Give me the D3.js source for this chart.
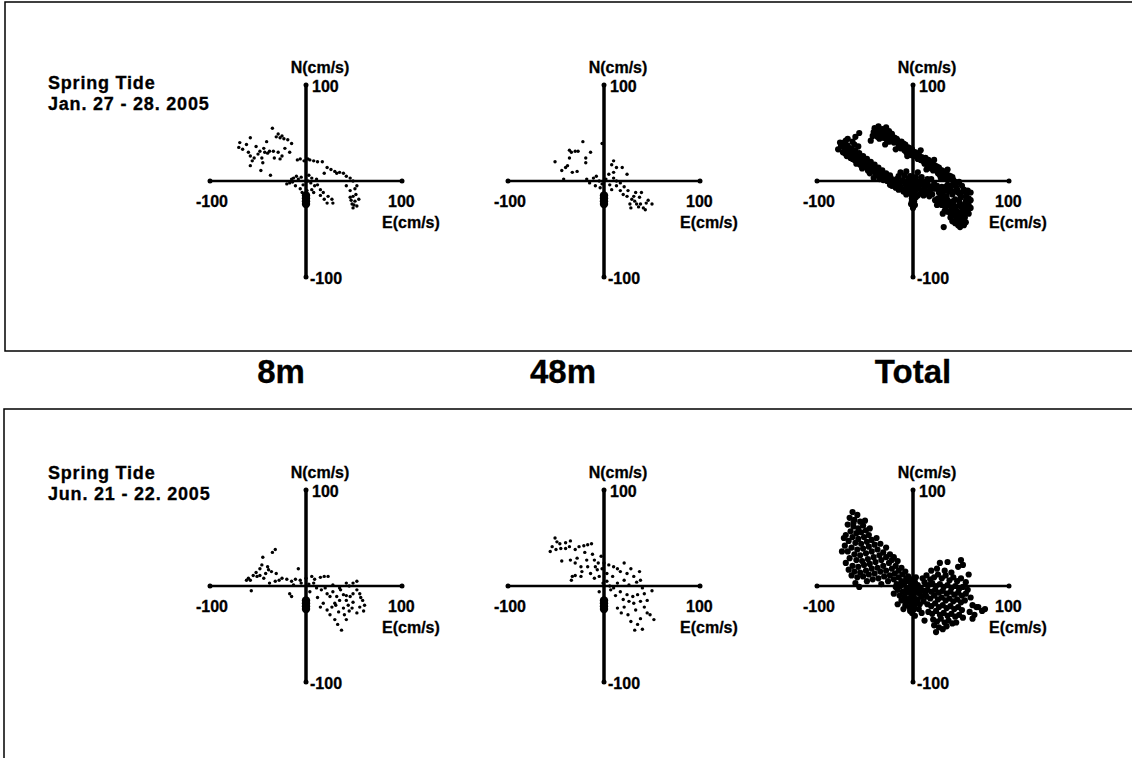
<!DOCTYPE html>
<html>
<head>
<meta charset="utf-8">
<script src="https://cdn.jsdelivr.net/npm/d3@7"></script>
<style>
  body { margin: 0; background: #fff; }
  text { font-family: "Liberation Sans", Arial, sans-serif; font-weight: bold; fill: #000; stroke: #000; stroke-width: 0.3px; }
</style>
</head>
<body>
<svg id="chart"></svg>
<script>
// current vectors, E and N in cm/s
const jan8m = [[-35,55],[-58,45],[-69,40],[-70,35],[-66,33],[-31,46],[-27,45],[-23,44],[-19,43],[-15,39],
  [-44,34],[-43,30],[-38,31],[-58,26],[-54,24],[-50,28],[-56,21],[-46,24],[-45,19],[-58,16],[-47,11],[-37,6],
  [-34,31],[-29,30],[-27,23],[-22,34],[-17,30],[-6,23],[-2,21],[2,23],[8,21],[12,20],[17,20],[19,8],[22,14],
  [30,10],[35,9],[39,8],[42,5],[46,3],[49,0],[53,-5],[-13,3],[-10,5],[-8,2],[-5,4],[-17,-2],[-20,-3],[-11,-5],
  [-6,-8],[6,3],[11,2],[9,-5],[6,-9],[15,-9],[18,-12],[23,-16],[27,-19],[28,-23],[22,-23],[42,-5],[46,-10],
  [49,-16],[51,-21],[48,-24],[49,-28],[53,-26],[55,-19],[46,-17],[2,0],[5,-2],[1,-10],[-3,-4],[-14,-1],[3,6],
  [-62,38],[-52,36],[-48,31],[-40,29],[-33,24],[-25,26],[-60,30],[-41,41],[-29,49],[-25,47],[-9,22],[4,22],
  [26,12],[32,8],[51,-8],[52,-14],[47,-20],[50,-25],[8,-12],[12,-4],[-15,2],[-4,-12],[15,-15],[19,-19]];
const jan48m = [[-22,41],[-2,39],[-36,32],[-34,30],[-30,31],[-27,31],[-14,30],[-51,20],[-36,24],[-19,24],[-19,19],
  [-44,11],[-40,14],[-38,16],[-33,9],[-28,10],[-42,2],[10,21],[13,14],[19,14],[24,7],[8,17],[-18,2],[-15,-2],
  [-11,3],[-8,5],[-5,0],[-9,-5],[-4,-7],[10,3],[13,0],[17,-2],[13,-5],[8,-9],[17,-10],[21,-6],[25,-10],[24,-16],
  [29,-19],[32,-21],[37,-17],[39,-12],[31,-16],[34,-24],[41,-28],[44,-23],[50,-24],[38,-24],[27,-24],[43,-30],
  [36,-27],[46,-20],[10,9],[5,7],[2,2],[-2,-3],[6,-4],[20,-14],[33,-12],[28,-28]];
const janTotal = [[-40,55],[-36,57],[-32,54],[-28,56],[-25,52],[-38,50],[-34,49],[-30,50],[-26,47],[-22,49],
  [-42,47],[-35,44],[-31,45],[-27,42],[-23,44],[-19,45],[-20,40],[-16,42],[-12,41],[-15,37],[-11,36],[-8,38],
  [-5,35],[-9,32],[-4,31],[-1,33],[2,30],[-2,27],[3,26],[6,28],[9,25],[5,23],[10,21],[13,24],[16,22],[12,18],
  [17,17],[20,19],[23,16],[19,13],[24,12],[27,14],[30,11],[26,8],[31,7],[34,9],[37,6],[33,3],[38,2],[41,4],
  [-44,42],[-18,33],[8,32],[22,22],[36,12],[-29,38],[-6,26],[14,12],[29,3],[-56,50],[-60,46],
  [-38,53],[-33,52],[-29,53],[-24,50],[-21,46],[-17,44],[-14,40],[-10,39],[-7,34],[-3,34],[0,29],[4,29],[7,25],
  [11,23],[14,20],[18,20],[21,15],[25,15],[28,12],[32,10],[35,7],[39,5],[42,1],[-37,46],[-33,47],[-28,45],
  [-25,41],[-13,34],[-7,30],[1,26],[8,22],[15,16],[21,11],[28,6],[35,4],[-41,51],[44,-1],
  [-75,36],[-72,40],[-70,33],[-68,37],[-66,30],[-73,30],[-64,34],[-62,28],[-60,32],[-58,25],[-61,22],[-56,29],
  [-54,22],[-52,26],[-50,19],[-55,17],[-48,23],[-46,16],[-44,20],[-42,13],[-47,11],[-40,17],[-38,10],[-36,14],
  [-34,8],[-39,6],[-32,11],[-30,5],[-28,8],[-26,3],[-31,1],[-24,6],[-22,1],[-69,26],[-65,24],[-59,18],[-53,13],
  [-45,8],[-41,3],[-35,2],[-70,42],[-63,41],[-57,36],[-78,33],
  [-74,38],[-71,35],[-67,34],[-65,28],[-62,31],[-59,27],[-57,23],[-53,24],[-51,21],[-49,17],[-45,19],[-43,15],
  [-41,11],[-37,12],[-35,7],[-33,10],[-29,6],[-27,3],[-25,0],[-23,3],[-71,29],[-67,27],[-63,23],[-58,20],
  [-52,17],[-48,14],[-44,10],[-39,8],[-33,5],[-76,40],[-68,44],[-61,38],
  [-20,-2],[-17,2],[-14,-4],[-11,1],[-8,-3],[-5,2],[-2,-2],[1,1],[4,-3],[7,0],[10,-4],[13,-1],[16,-5],[-18,-7],
  [-12,-8],[-6,-7],[0,-6],[6,-8],[12,-9],[18,-9],[-15,5],[-9,6],[-3,5],[3,4],[9,4],[15,2],[-10,-11],[-4,-12],
  [2,-11],[8,-13],[14,-13],[20,-14],[-1,-16],[1,-20],[-2,-24],[0,-28],[3,-17],[-24,-4],[-27,0],[22,-3],[19,2],
  [-7,10],[5,9],[-13,9],
  [-19,-5],[-16,-1],[-13,-6],[-9,-1],[-6,-5],[-3,0],[0,-3],[3,-1],[6,-5],[9,-1],[12,-6],[15,-2],[18,-6],[21,-8],
  [-15,-9],[-9,-9],[-3,-10],[3,-9],[9,-10],[15,-11],[-7,-14],[-1,-13],[5,-15],[11,-15],[17,-16],[-22,-5],
  [0,-22],[2,-25],[-1,-19],
  [24,-8],[27,-12],[30,-6],[33,-10],[36,-4],[39,-8],[42,-2],[45,-6],[48,-1],[51,-5],[26,-18],[29,-15],[32,-20],
  [35,-16],[38,-22],[41,-14],[44,-19],[47,-12],[50,-17],[53,-9],[56,-13],[30,-25],[34,-28],[37,-24],[40,-30],
  [43,-26],[46,-32],[49,-24],[52,-29],[55,-21],[58,-25],[42,-36],[45,-40],[48,-35],[51,-38],[54,-33],[57,-30],
  [50,-43],[53,-46],[47,-46],[44,-2],[58,-18],[60,-12],[25,-25],[23,-20],[39,-38],[31,-34],[32,-48],
  [25,-5],[28,-9],[31,-13],[34,-6],[37,-11],[40,-5],[43,-11],[46,-9],[49,-14],[52,-11],[55,-16],[57,-10],
  [27,-20],[30,-17],[33,-24],[36,-20],[39,-26],[42,-21],[45,-27],[48,-21],[51,-28],[54,-24],[57,-27],[60,-20],
  [36,-32],[39,-34],[42,-31],[45,-35],[48,-40],[51,-33],[54,-38],[58,-34],[44,-44],[49,-48],[52,-41],[28,-24],
  [33,-31],[41,-42],[55,-43],[60,-28]];
const jun8m = [[-32,38],[-35,35],[-45,30],[-46,22],[-48,18],[-39,17],[-36,15],[-31,13],[-55,11],[-51,10],[-48,11],
  [-44,8],[-58,6],[-62,6],[-42,13],[-38,3],[-32,5],[-28,6],[-57,-5],[-20,7],[-15,5],[-11,7],[-8,18],[-13,1],
  [0,8],[6,10],[9,7],[15,9],[19,10],[23,10],[8,3],[11,-2],[16,-4],[22,-8],[25,-11],[28,-6],[32,-11],[35,-15],
  [39,-9],[42,-15],[46,-11],[49,-8],[53,-4],[56,-8],[59,-15],[61,-20],[49,-17],[44,-20],[39,-23],[34,-27],
  [30,-35],[37,-46],[42,-35],[53,-28],[56,-22],[18,-18],[22,-25],[15,-22],[27,-22],[42,3],[49,3],[53,5],[28,1],
  [-17,-8],[-15,-11],[-6,6],[4,-6],[12,-12],[31,-20],[45,-26],[36,-4],
  [-40,20],[-52,14],[-60,8],[-25,8],[-5,3],[3,2],[20,-2],[35,-2],[42,-10],[30,-18],[25,-30],[40,-30],[48,-23],
  [57,-12],[60,-26],[33,-40],[45,0]];
const jun48m = [[-51,50],[-49,46],[-54,41],[-56,36],[-50,38],[-45,39],[-40,39],[-35,47],[-36,41],[-26,41],[-21,42],
  [-17,43],[-13,44],[-44,26],[-35,27],[-30,24],[-28,29],[-24,20],[-18,27],[-17,20],[-34,6],[-33,10],[-30,11],
  [-24,10],[-23,15],[-10,27],[-9,20],[-7,17],[-14,13],[-10,8],[-3,31],[-2,18],[-5,10],[3,13],[9,10],[10,20],
  [21,24],[17,15],[24,13],[31,10],[37,15],[38,6],[26,1],[21,6],[14,3],[10,-2],[7,-4],[-5,-6],[17,-6],[24,-9],
  [30,-11],[35,-9],[42,-8],[50,-5],[38,-16],[31,-18],[26,-16],[42,-22],[45,-28],[38,-34],[35,-40],[28,-37],
  [52,-35],[21,-22],[14,-23],[45,-15],[33,-25],[3,5],[6,0],[-1,3],[12,-10],[20,-14],
  [-46,44],[-40,45],[-30,38],[-20,35],[-12,33],[-6,24],[0,24],[5,22],[14,18],[28,18],[34,4],[40,-2],[18,-28],
  [25,-30],[40,-45],[32,-46],[48,-30]];
const junTotal = [[-63,77],[-58,74],[-66,71],[-61,69],[-55,67],[-68,64],[-62,62],[-57,60],[-52,63],[-65,57],
  [-59,55],[-54,56],[-49,58],[-70,53],[-63,51],[-57,49],[-51,51],[-46,53],[-67,47],[-60,45],[-54,44],[-48,46],
  [-43,48],[-71,42],[-64,40],[-58,38],[-52,39],[-46,41],[-40,43],[-68,36],[-61,33],[-55,32],[-49,34],[-43,36],
  [-37,38],[-66,29],[-59,27],[-53,26],[-47,28],[-41,30],[-35,32],[-31,35],[-70,24],[-63,21],[-57,20],[-51,22],
  [-45,23],[-39,25],[-33,27],[-28,30],[-67,17],[-61,15],[-55,14],[-49,16],[-43,18],[-37,19],[-31,21],[-25,24],
  [-22,27],[-64,11],[-58,9],[-52,10],[-46,12],[-40,13],[-34,15],[-28,16],[-22,18],[-18,21],[-48,5],[-42,7],
  [-36,8],[-30,10],[-24,11],[-19,13],[-15,16],[-12,19],[-60,3],[-26,5],[-20,7],[-15,9],[-11,12],[-8,15],
  [-33,2],[-17,2],[-12,5],[-7,8],[-56,-1],[-72,50],[-74,36],[-45,60],[-38,50],[-34,44],[-28,40],[-24,33],
  [-20,30],[-16,26],[-62,66],[-50,68],
  [-9,3],[-5,5],[-2,1],[2,4],[5,1],[-7,-2],[-3,-3],[1,-1],[4,-4],[8,-2],[-11,-6],[-6,-7],[-2,-8],[3,-7],[7,-8],
  [11,-5],[-14,-10],[-9,-11],[-4,-13],[1,-12],[5,-14],[9,-11],[13,-9],[-12,-15],[-7,-16],[-2,-18],[3,-17],
  [7,-19],[11,-16],[-16,-4],[-20,-8],[-18,-1],[-4,-22],[1,-24],[-1,-28],[2,-31],[-3,-26],[6,-24],[-8,-20],
  [-13,0],[-1,7],[3,9],[-5,10],[-16,-19],[-10,-24],
  [12,4],[16,1],[20,3],[24,0],[28,2],[32,-1],[36,1],[40,-2],[44,0],[48,-3],[52,-1],[15,-4],[19,-6],[23,-4],
  [27,-7],[31,-5],[35,-8],[39,-6],[43,-9],[47,-7],[51,-10],[55,-8],[14,-11],[18,-13],[22,-10],[26,-14],[30,-12],
  [34,-15],[38,-13],[42,-16],[46,-14],[50,-17],[54,-15],[15,-19],[19,-21],[23,-18],[27,-22],[31,-20],[35,-23],
  [39,-21],[43,-24],[47,-22],[51,-25],[16,-27],[20,-29],[24,-26],[28,-30],[32,-28],[36,-31],[40,-29],[44,-32],
  [48,-30],[21,-35],[25,-37],[29,-34],[33,-38],[37,-36],[41,-39],[27,-43],[31,-45],[35,-42],[24,-48],[10,8],
  [14,11],[18,7],[22,9],[26,12],[30,8],[34,11],[38,6],[42,9],[46,5],[50,8],[19,16],[25,18],[33,16],[40,14],
  [47,20],[52,22],[57,-4],[60,-12],[62,-20],[59,-27],[64,-30],[58,12],[55,4],[45,-38],[52,-33],[36,25],[28,24],
  [9,-28],[12,-36],[62,-34],[66,-22],[50,27],[22,-41],[68,-22],[72,-26],[75,-24]];
// dark cluster that sits on the N axis just below the origin in every panel
const axisBlob = [[0,-15],[0,-18],[0,-21],[0,-24]];

const depthLabels = ["8m", "48m", "Total"];
const rowTitles = [["Spring Tide", "Jan. 27 - 28. 2005"], ["Spring Tide", "Jun. 21 - 22. 2005"]];
const rowData = [[jan8m, jan48m, janTotal], [jun8m, jun48m, junTotal]];
const axisLimit = 100;

// layout
const width = 1132, height = 758;
const colX = [306, 604, 913];
const headX = [281, 563, 913];
const rowY = [181, 586];
const titleY = [89, 479];
const half = 96;

const svg = d3.select("#chart").attr("width", width).attr("height", height);

// the two boxes round the rows (right and bottom edges run off the page)
svg.append("rect").attr("x", 5).attr("y", 2).attr("width", 1140).attr("height", 349)
  .attr("fill", "none").attr("stroke", "#000").attr("stroke-width", 1.5);
svg.append("rect").attr("x", 4).attr("y", 409).attr("width", 1140).attr("height", 360)
  .attr("fill", "none").attr("stroke", "#000").attr("stroke-width", 1.5);

// depth headings between the boxes
svg.selectAll(".depth")
  .data(depthLabels)
  .enter().append("text")
  .attr("x", (d, i) => headX[i])
  .attr("y", 383)
  .attr("text-anchor", "middle")
  .attr("font-size", "33px")
  .text(d => d);

rowData.forEach((row, r) => {
  const cy = rowY[r];

  svg.append("text")
    .attr("x", 48).attr("y", titleY[r])
    .attr("font-size", "18px")
    .attr("letter-spacing", "0.8px")
    .selectAll("tspan")
    .data(rowTitles[r])
    .enter().append("tspan")
    .attr("x", 48)
    .attr("dy", (d, i) => i === 0 ? 0 : 21)
    .text(d => d);

  row.forEach((pts, c) => {
    const cx = colX[c];
    const x = d3.scaleLinear().domain([-axisLimit, axisLimit]).range([cx - half, cx + half]);
    const y = d3.scaleLinear().domain([-axisLimit, axisLimit]).range([cy + half, cy - half]);
    const g = svg.append("g");

    // E axis
    g.append("line")
      .attr("x1", x(-axisLimit)).attr("x2", x(axisLimit))
      .attr("y1", y(0)).attr("y2", y(0))
      .attr("stroke", "#000").attr("stroke-width", 2.5);
    g.selectAll(".ecap").data([-axisLimit, axisLimit]).enter().append("circle")
      .attr("cx", d => x(d)).attr("cy", y(0)).attr("r", 2.5);

    // N axis
    g.append("line")
      .attr("x1", x(0)).attr("x2", x(0))
      .attr("y1", y(-axisLimit)).attr("y2", y(axisLimit))
      .attr("stroke", "#000").attr("stroke-width", 3.5);
    g.selectAll(".ncap").data([-axisLimit, axisLimit]).enter().append("circle")
      .attr("cx", x(0)).attr("cy", d => y(d)).attr("r", 2.5);

    // data points
    const isTotal = c === 2;
    g.selectAll(".pt")
      .data(pts)
      .enter().append("circle")
      .attr("cx", d => x(d[0]))
      .attr("cy", d => y(d[1]))
      .attr("r", isTotal ? 3.1 : 1.7)
      .attr("fill", "#000");
    g.selectAll(".blob")
      .data(axisBlob)
      .enter().append("circle")
      .attr("cx", d => x(d[0]))
      .attr("cy", d => y(d[1]))
      .attr("r", 4.2)
      .attr("fill", "#000");

    // labels
    g.append("text").attr("x", x(0) + 14).attr("y", y(axisLimit) - 12)
      .attr("text-anchor", "middle").attr("font-size", "16px").text("N(cm/s)");
    g.append("text").attr("x", x(0) + 6).attr("y", y(axisLimit) + 7)
      .attr("font-size", "16px").text(axisLimit);
    g.append("text").attr("x", x(0) + 4).attr("y", y(-axisLimit) + 7)
      .attr("font-size", "16px").text(-axisLimit);
    g.append("text").attr("x", x(-axisLimit) + 18).attr("y", y(0) + 26)
      .attr("text-anchor", "end").attr("font-size", "16px").text(-axisLimit);
    g.append("text").attr("x", x(axisLimit) - 14).attr("y", y(0) + 26)
      .attr("font-size", "16px").text(axisLimit);
    g.append("text").attr("x", x(axisLimit) - 20).attr("y", y(0) + 47)
      .attr("font-size", "16px").text("E(cm/s)");
  });
});
</script>
</body>
</html>
